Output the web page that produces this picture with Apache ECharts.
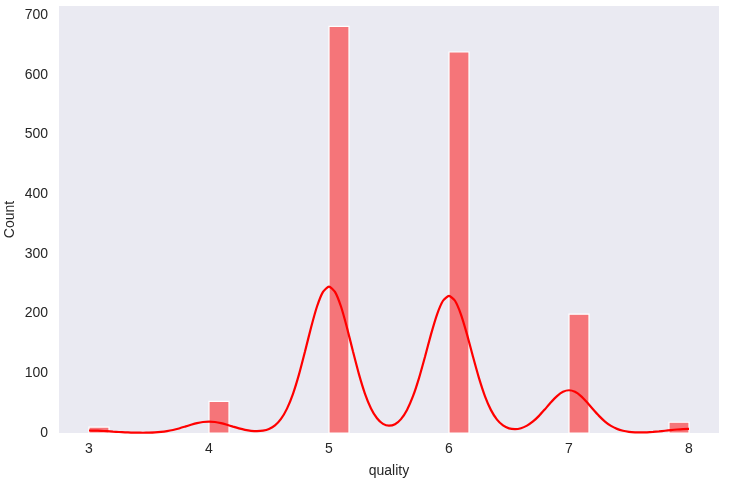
<!DOCTYPE html>
<html><head><meta charset="utf-8">
<script src="https://cdn.jsdelivr.net/npm/echarts@6/dist/echarts.min.js"></script>
<style>html,body{margin:0;padding:0;background:#fff}#c{width:729px;height:486px}</style>
</head><body><div id="c"></div>
<script>
// Histogram bins (non-empty), bin width = 1/6
var binStarts = [3, 4, 5, 6, 7, 7.8333];
var binWidth = 1 / 6;
var counts = [10, 53, 681, 638, 199, 18];
// KDE curve (step 0.05 from 3 to 8)
var kdeX = [3.00,3.05,3.10,3.15,3.20,3.25,3.30,3.35,3.40,3.45,3.50,3.55,3.60,3.65,3.70,3.75,3.80,3.85,3.90,3.95,
            4.00,4.05,4.10,4.15,4.20,4.25,4.30,4.35,4.40,4.45,4.50,4.55,4.60,4.65,4.70,4.75,4.80,4.85,4.90,4.95,
            5.00,5.05,5.10,5.15,5.20,5.25,5.30,5.35,5.40,5.45,5.50,5.55,5.60,5.65,5.70,5.75,5.80,5.85,5.90,5.95,
            6.00,6.05,6.10,6.15,6.20,6.25,6.30,6.35,6.40,6.45,6.50,6.55,6.60,6.65,6.70,6.75,6.80,6.85,6.90,6.95,
            7.00,7.05,7.10,7.15,7.20,7.25,7.30,7.35,7.40,7.45,7.50,7.55,7.60,7.65,7.70,7.75,7.80,7.85,7.90,7.95,8.00];
var kdeY = [4.2,4.0,3.6,3.0,2.3,1.65,1.1,0.72,0.5,0.45,0.6,1.0,1.85,3.2,5.1,7.6,10.6,13.7,16.5,18.4,
            19.1,18.4,16.5,13.7,10.6,7.7,5.3,3.7,3.1,3.9,6.8,12.8,23.6,40.8,65.6,98.1,136.4,176.3,211.8,236.4,
            245.2,236.4,211.8,176.3,136.4,98.2,65.7,41.2,24.7,15.3,12.2,14.7,23.3,38.7,61.6,92.0,127.8,165.2,198.4,221.4,
            229.7,221.4,198.4,165.2,127.8,91.9,61.5,38.3,22.4,12.7,7.7,6.4,8.0,12.4,19.3,28.7,39.9,51.5,61.8,69.0,
            71.6,69.0,61.8,51.5,39.8,28.7,19.2,11.9,6.9,3.8,2.0,1.2,1.0,1.2,1.8,2.7,3.8,4.9,5.9,6.6,6.9];
var xTicks = [3, 4, 5, 6, 7, 8];
var yTicks = [0, 100, 200, 300, 400, 500, 600, 700];

var barData = binStarts.map(function (s, i) { return [s, s + binWidth, counts[i]]; });
var kdeData = kdeX.map(function (x, i) { return [x, kdeY[i]]; });

var chart = echarts.init(document.getElementById('c'));
var font = 'Liberation Sans, Arial, sans-serif';
chart.setOption({
  animation: false,
  grid: { left: 59, right: 10, top: 6, bottom: 53, backgroundColor: '#EAEAF2', show: true, borderWidth: 0,
          containLabel: false, outerBoundsMode: 'none' },
  xAxis: {
    type: 'value', min: 2.75, max: 8.25,
    name: 'quality', nameLocation: 'middle', nameGap: 31, nameMoveOverlap: false,
    nameTextStyle: { color: '#262626', fontSize: 14, fontFamily: font },
    axisLine: { show: false }, axisTick: { show: false }, splitLine: { show: false },
    axisLabel: {
      color: '#262626', fontSize: 14, fontFamily: font, margin: 9,
      customValues: xTicks
    }
  },
  yAxis: {
    type: 'value', min: 0, max: 715, interval: 100,
    name: 'Count', nameLocation: 'middle', nameGap: 42, nameRotate: 90, nameMoveOverlap: false,
    nameTextStyle: { color: '#262626', fontSize: 14, fontFamily: font },
    axisLine: { show: false }, axisTick: { show: false }, splitLine: { show: false },
    axisLabel: {
      color: '#262626', fontSize: 14, fontFamily: font, margin: 11,
      customValues: yTicks
    }
  },
  series: [
    {
      type: 'custom',
      data: barData,
      encode: { x: [0, 1], y: 2 },
      renderItem: function (params, api) {
        var p0 = api.coord([api.value(0), api.value(2)]);
        var p1 = api.coord([api.value(1), 0]);
        return {
          type: 'rect',
          shape: { x: p0[0], y: p0[1], width: p1[0] - p0[0], height: p1[1] - p0[1] },
          style: { fill: '#F57579', stroke: '#ffffff', lineWidth: 1.2 }
        };
      }
    },
    {
      type: 'line', data: kdeData, smooth: 0.2, showSymbol: false,
      lineStyle: { color: '#FF0000', width: 2.2 }, z: 5
    }
  ]
});
</script></body></html>
